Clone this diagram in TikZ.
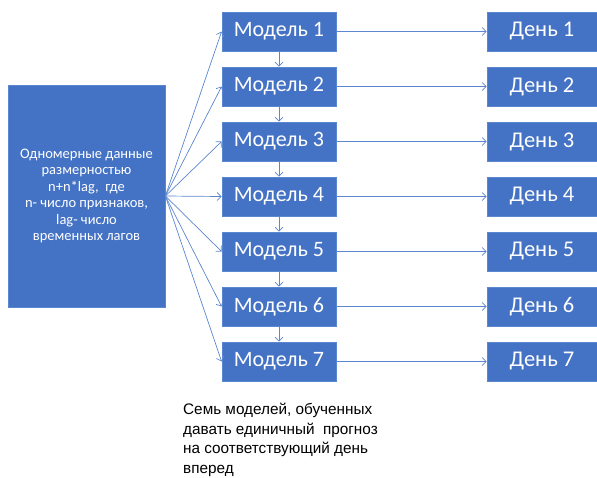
\documentclass[tikz,border=0pt]{standalone}
\usepackage{fontspec}
\setmainfont{Carlito}
\newfontfamily\capfont{Liberation Sans}
\usetikzlibrary{arrows.meta}
\definecolor{boxblue}{HTML}{4472C4}
\definecolor{boxedge}{HTML}{5B86D0}
\definecolor{linkblue}{HTML}{5C86CF}
\tikzset{
  modelbox/.style={draw=boxedge, line width=0.8pt, fill=boxblue, text=white, minimum width=114pt, minimum height=39pt, inner sep=0pt, font=\fontsize{22}{24}\selectfont, anchor=center},
  daybox/.style={draw=boxedge, line width=0.8pt, fill=boxblue, text=white, minimum width=110pt, minimum height=39pt, inner sep=0pt, font=\fontsize{22.5}{24}\selectfont, anchor=center},
  link/.style={draw=linkblue, line width=0.7pt, -{Straight Barb[length=4pt,width=8pt]}}
}
\begin{document}
\begin{tikzpicture}[x=1pt,y=-1pt]
\useasboundingbox (0,0) rectangle (597,477);
\node[draw=boxedge, line width=0.8pt, fill=boxblue, text=white, minimum width=157pt, minimum height=222pt, inner sep=0pt, align=center, font=\fontsize{14.5}{16.5}\selectfont] (src) at (86.5,196) {Одномерные данные\\размерностью\\n+n*lag,\ \ где\\n- число признаков,\\lag- число\\временных лагов};
\foreach \i in {1,...,7}{
  \node[modelbox] (m\i) at (279,{31.5+55*(\i-1)}) {Модель \i};
  \node[daybox] (d\i) at (542,{31.5+55*(\i-1)}) {День \i};
  \draw[link] (src.east) -- (m\i.west);
  \draw[link] (m\i.east) -- (d\i.west);
}
\foreach \i/\j in {1/2,2/3,3/4,4/5,5/6,6/7}{
  \draw[link] (m\i.south) -- (m\j.north);
}
\node[anchor=north west, align=left, inner sep=0pt, font=\capfont\fontsize{15.3}{19.5}\selectfont] (cap) at (183,403) {Семь моделей, обученных\\давать единичный\ \ прогноз\\на соответствующий день\\вперед};
\end{tikzpicture}
\end{document}
